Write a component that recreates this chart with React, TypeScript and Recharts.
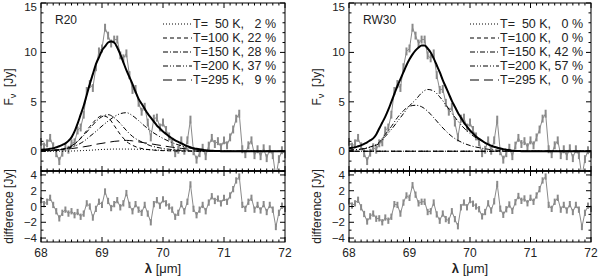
import React from 'react';
import { ComposedChart, Line, XAxis, YAxis, ErrorBar } from 'recharts';

// observed spectrum and residuals, one value every 0.05 µm from 68 to 72 µm
const observed = [
  0.95, 0.47, 0.8, 1.35, 0.5, -0.2, -1.0, -0.15, 0.4, 0.15,
  0.8, 0.9, 2.1, 2.4, 3.7, 6.1, 6.8, 6.4, 8.5, 10.1,
  10.4, 12.5, 11.7, 10.9, 11.3, 11.3, 9.7, 9.4, 9.9, 7.7,
  6.2, 6.3, 4.9, 4.0, 4.5, 2.9, 1.4, 3.3, 3.4, 2.4,
  2.9, 2.15, 1.5, 0.9, -0.2, 0.15, 1.1, 0.05, 1.1, 3.2,
  0.0, -0.85, -0.2, 0.35, -0.5, 0.57, 1.35, 0.73, 1.02, 0.41,
  1.1, 0.6, 1.4, 2.2, 3.3, 3.8, 0.2, -0.3, 0.6, 1.1,
  -0.4, 0.2, -0.5, 0.3, -0.7, 0.2, -0.4, -2.6, -0.8, 0.1,
  -0.3,
];
const diffR20 = [
  0.8, 0.3, 0.6, 1.1, 0.2, -0.6, -1.5, -0.8, -0.4, -0.9,
  -0.6, -1.1, -0.7, -1.3, -0.9, 0.4, 0.0, -1.4, -0.3, 0.6,
  0.2, 1.9, 0.7, -0.2, 0.3, 0.8, -0.1, 0.4, 1.7, 0.2,
  -0.6, 0.3, -0.4, -0.8, 0.2, -0.9, -2.0, 0.3, 0.8, 0.1,
  0.9, 0.4, 0.0, -0.4, -1.3, -0.8, 0.3, -0.6, 0.6, 2.8,
  -0.3, -1.1, -0.4, 0.2, -0.6, 0.5, 1.3, 0.7, 1.0, 0.4,
  1.1, 0.6, 1.4, 2.2, 3.3, 3.8, 0.2, -0.3, 0.6, 1.1,
  -0.4, 0.2, -0.5, 0.3, -0.7, 0.2, -0.4, -2.6, -0.8, 0.1,
  -0.3,
];
const diffRW30 = [
  0.65, 0.12, 0.4, 0.85, -0.1, -0.95, -1.9, -1.25, -0.9, -1.55,
  -1.5, -2.0, -1.4, -1.8, -1.3, 0.3, 0.2, -0.9, 0.5, 1.4,
  1.1, 2.7, 1.5, 0.4, 0.6, 0.6, -0.7, -0.6, 0.5, -1.0,
  -1.8, -0.9, -1.6, -1.8, -0.6, -1.6, -2.5, -0.1, 0.5, -0.1,
  0.8, 0.35, 0.0, -0.35, -1.25, -0.7, 0.4, -0.5, 0.65, 2.85,
  -0.28, -1.05, -0.35, 0.25, -0.55, 0.54, 1.33, 0.72, 1.02, 0.41,
  1.1, 0.6, 1.4, 2.2, 3.3, 3.8, 0.2, -0.3, 0.6, 1.1,
  -0.4, 0.2, -0.5, 0.3, -0.7, 0.2, -0.4, -2.6, -0.8, 0.1,
  -0.3,
];
const fitR20 = [
  0.15, 0.17, 0.2, 0.25, 0.3, 0.4, 0.5, 0.65, 0.8, 1.05,
  1.4, 2.0, 2.8, 3.7, 4.6, 5.7, 6.8, 7.8, 8.8, 9.5,
  10.2, 10.6, 11.0, 11.1, 11.0, 10.5, 9.8, 9.0, 8.2, 7.5,
  6.8, 6.0, 5.3, 4.8, 4.3, 3.8, 3.4, 3.0, 2.6, 2.3,
  2.0, 1.75, 1.5, 1.3, 1.1, 0.95, 0.8, 0.65, 0.5, 0.4,
  0.3, 0.25, 0.2, 0.15, 0.1, 0.07, 0.05, 0.03, 0.02, 0.01,
  0, 0, 0, 0, 0, 0, 0, 0, 0, 0,
  0, 0, 0, 0, 0, 0, 0, 0, 0, 0,
  0,
];
const fitRW30 = [
  0.3, 0.35, 0.4, 0.5, 0.6, 0.75, 0.9, 1.1, 1.3, 1.7,
  2.3, 2.9, 3.5, 4.2, 5.0, 5.8, 6.6, 7.3, 8.0, 8.7,
  9.3, 9.8, 10.2, 10.5, 10.7, 10.7, 10.4, 10.0, 9.4, 8.7,
  8.0, 7.2, 6.5, 5.8, 5.1, 4.5, 3.9, 3.4, 2.9, 2.5,
  2.1, 1.8, 1.5, 1.25, 1.05, 0.85, 0.7, 0.55, 0.45, 0.35,
  0.28, 0.2, 0.15, 0.1, 0.05, 0.03, 0.02, 0.01, 0, 0,
  0, 0, 0, 0, 0, 0, 0, 0, 0, 0,
  0, 0, 0, 0, 0, 0, 0, 0, 0, 0,
  0,
];
const obsError = 0.4;

// temperature components, one value every 0.1 µm from 68 to 72 µm
const r20T50 = [
  0, 0, 0, 0, 0, 0.02, 0.04, 0.07, 0.1, 0.14,
  0.18, 0.2, 0.22, 0.22, 0.22, 0.21, 0.2, 0.18, 0.15, 0.12,
  0.1, 0.07, 0.05, 0.03, 0.02, 0.01, 0, 0, 0, 0,
  0, 0, 0, 0, 0, 0, 0, 0, 0, 0, 0,
];
const r20T100 = [
  0.02, 0.03, 0.06, 0.12, 0.25, 0.5, 1.0, 1.7, 2.5, 3.2,
  3.6, 3.4, 2.6, 1.7, 1.0, 0.6, 0.35, 0.22, 0.14, 0.09,
  0.06, 0.04, 0.03, 0.02, 0.01, 0, 0, 0, 0, 0,
  0, 0, 0, 0, 0, 0, 0, 0, 0, 0, 0,
];
const r20T150 = [
  0.03, 0.05, 0.09, 0.16, 0.3, 0.55, 1.0, 1.6, 2.3, 3.0,
  3.5, 3.7, 3.4, 2.8, 2.1, 1.5, 1.1, 0.8, 0.55, 0.4,
  0.28, 0.2, 0.14, 0.09, 0.05, 0.03, 0.01, 0, 0, 0,
  0, 0, 0, 0, 0, 0, 0, 0, 0, 0, 0,
];
const r20T200 = [
  0.03, 0.06, 0.1, 0.17, 0.25, 0.4, 0.65, 1.0, 1.5, 2.0,
  2.55, 3.05, 3.5, 3.8, 3.9, 3.6, 3.1, 2.55, 2.05, 1.65,
  1.3, 1.0, 0.75, 0.55, 0.38, 0.25, 0.14, 0.06, 0.02, 0,
  0, 0, 0, 0, 0, 0, 0, 0, 0, 0, 0,
];
const r20T295 = [
  0.05, 0.07, 0.1, 0.15, 0.2, 0.27, 0.35, 0.45, 0.55, 0.7,
  0.8, 0.9, 1.0, 1.05, 1.1, 1.05, 0.95, 0.85, 0.75, 0.65,
  0.55, 0.45, 0.37, 0.29, 0.22, 0.15, 0.08, 0.03, 0, 0,
  0, 0, 0, 0, 0, 0, 0, 0, 0, 0, 0,
];
const rw30T50 = [
  0, 0, 0, 0, 0, 0, 0, 0, 0, 0, 0, 0, 0, 0, 0, 0, 0, 0, 0, 0, 0,
  0, 0, 0, 0, 0, 0, 0, 0, 0, 0, 0, 0, 0, 0, 0, 0, 0, 0, 0, 0,
];
const rw30T100 = [
  0, 0, 0, 0, 0, 0, 0, 0, 0, 0, 0, 0, 0, 0, 0, 0, 0, 0, 0, 0, 0,
  0, 0, 0, 0, 0, 0, 0, 0, 0, 0, 0, 0, 0, 0, 0, 0, 0, 0, 0, 0,
];
const rw30T150 = [
  0.1, 0.15, 0.22, 0.35, 0.55, 0.9, 1.7, 2.5, 3.4, 4.1,
  4.55, 4.65, 4.5, 4.05, 3.4, 2.7, 2.05, 1.5, 1.1, 0.8,
  0.58, 0.42, 0.3, 0.2, 0.13, 0.08, 0.04, 0.02, 0, 0,
  0, 0, 0, 0, 0, 0, 0, 0, 0, 0, 0,
];
const rw30T200 = [
  0.1, 0.15, 0.2, 0.32, 0.5, 0.8, 1.5, 2.2, 3.0, 3.8,
  4.6, 5.2, 5.9, 6.25, 6.1, 5.5, 4.7, 3.85, 3.05, 2.35,
  1.8, 1.35, 1.0, 0.72, 0.5, 0.32, 0.18, 0.08, 0.02, 0,
  0, 0, 0, 0, 0, 0, 0, 0, 0, 0, 0,
];
const rw30T295 = [
  0, 0, 0, 0, 0, 0, 0, 0, 0, 0, 0, 0, 0, 0, 0, 0, 0, 0, 0, 0, 0,
  0, 0, 0, 0, 0, 0, 0, 0, 0, 0, 0, 0, 0, 0, 0, 0, 0, 0, 0, 0,
];

const r20Labels = ['T=\u200750 K, \u20072 %', 'T=100 K, 22 %', 'T=150 K, 28 %', 'T=200 K, 37 %', 'T=295 K, \u20079 %'];
const rw30Labels = ['T=\u200750 K, \u20070 %', 'T=100 K, \u20070 %', 'T=150 K, 42 %', 'T=200 K, 57 %', 'T=295 K, \u20070 %'];

// axes
const xMajor = [68, 69, 70, 71, 72];
const xTicks = Array.from({ length: 41 }, (_, i) => +(68 + i * 0.1).toFixed(1));
const fluxMajor = [0, 5, 10, 15];
const fluxTicks = Array.from({ length: 18 }, (_, i) => i - 2);
const diffMajor = [-4, -2, 0, 2, 4];
const diffTicks = [-4, -3, -2, -1, 0, 1, 2, 3, 4];

const fine = observed.map((obs, i) => ({
  x: 68 + i * 0.05,
  obs,
  err: obsError,
  fitR20: fitR20[i],
  fitRW30: fitRW30[i],
  diffR20: diffR20[i],
  diffRW30: diffRW30[i],
}));
const coarse = r20T50.map((_, i) => ({
  x: 68 + i * 0.1,
  r20T50: r20T50[i], r20T100: r20T100[i], r20T150: r20T150[i], r20T200: r20T200[i], r20T295: r20T295[i],
  rw30T50: rw30T50[i], rw30T100: rw30T100[i], rw30T150: rw30T150[i], rw30T200: rw30T200[i], rw30T295: rw30T295[i],
}));

const dashes = ['1 2', '4 3', '5 2 1 2', '5 2 1 2 1 2', '9 5'];
const FONT = '"Liberation Sans", Arial, sans-serif';
const GRAY = '#8a8a8a';
const TOP_H = 171;
const BOT_PLOT = 71;
const BOT_PAD = 6; // room above the residual panel so its top label is not cut
const BOT_H = 277 - TOP_H + BOT_PAD;

const panels = [
  { name: 'R20', left: 0, plotL: 41, plotR: 285, fit: 'fitR20', diff: 'diffR20', comps: ['r20T50', 'r20T100', 'r20T150', 'r20T200', 'r20T295'], labels: r20Labels, legendX: 163 },
  { name: 'RW30', left: 300, plotL: 49, plotR: 291, fit: 'fitRW30', diff: 'diffRW30', comps: ['rw30T50', 'rw30T100', 'rw30T150', 'rw30T200', 'rw30T295'], labels: rw30Labels, legendX: 470 },
];

const fmt = (v: number) => (v < 0 ? '\u2212' + Math.abs(v) : String(v));

// inward ticks on the bottom and top edges, labels below
const xTick = (top: number, bottom: number, withLabel: boolean) => (p: any) => {
  const v = p.payload.value;
  const major = xMajor.some((m) => Math.abs(m - v) < 1e-6);
  const len = major ? 5 : 2.5;
  return (
    <g>
      <line x1={p.x} x2={p.x} y1={bottom} y2={bottom - len} stroke="#000" strokeWidth={1} />
      <line x1={p.x} x2={p.x} y1={top} y2={top + len} stroke="#000" strokeWidth={1} />
      {withLabel && major && (
        <text x={p.x} y={bottom + 15} textAnchor="middle" fontSize={12} fontFamily={FONT} fill="#222">
          {v}
        </text>
      )}
    </g>
  );
};

// inward ticks on the left and right edges, labels to the left
const yTick = (l: number, r: number, top: number, majors: number[]) => (p: any) => {
  const v = p.payload.value;
  const major = majors.includes(v);
  const len = major ? 5 : 2.5;
  return (
    <g>
      <line x1={l} x2={l + len} y1={p.y} y2={p.y} stroke="#000" strokeWidth={1} />
      <line x1={r} x2={r - len} y1={p.y} y2={p.y} stroke="#000" strokeWidth={1} />
      {major && (
        <text x={l - 4} y={Math.max(p.y, top + 3.5)} dy={4} textAnchor="end" fontSize={11.5} fontFamily={FONT} fill="#222">
          {fmt(v)}
        </text>
      )}
    </g>
  );
};

function Panel({ p }: { p: (typeof panels)[number] }) {
  const right = 300 - p.plotR;
  return (
    <>
      <div style={{ position: 'absolute', left: p.left, top: 0 }}>
        <ComposedChart width={300} height={TOP_H + 1} data={fine} margin={{ top: 3, right, bottom: 0, left: p.plotL - 1 }}>
          <XAxis dataKey="x" type="number" domain={[68, 72]} ticks={xTicks} interval={0} height={1} tickSize={0}
            axisLine={false} tickLine={false} tick={xTick(3, TOP_H, false)} allowDataOverflow />
          <YAxis type="number" domain={[-2, 15]} ticks={fluxTicks} interval={0} width={1} tickSize={0}
            axisLine={false} tickLine={false} tick={yTick(p.plotL, p.plotR, 3, fluxMajor)} allowDataOverflow />
          <Line dataKey="obs" type="linear" stroke={GRAY} strokeWidth={1} dot={false} isAnimationActive={false}>
            <ErrorBar dataKey="err" width={0} stroke={GRAY} strokeWidth={2} direction="y" isAnimationActive={false} />
          </Line>
          {p.comps.map((c, i) => (
            <Line key={c} data={coarse} dataKey={c} type="monotone" stroke="#000" strokeWidth={1}
              strokeDasharray={dashes[i]} dot={false} isAnimationActive={false} />
          ))}
          <Line dataKey={p.fit} type="monotone" stroke="#000" strokeWidth={2} dot={false} isAnimationActive={false} />
        </ComposedChart>
      </div>
      <div style={{ position: 'absolute', left: p.left, top: TOP_H - BOT_PAD }}>
        <ComposedChart width={300} height={BOT_H} data={fine}
          margin={{ top: BOT_PAD, right, bottom: BOT_H - BOT_PAD - BOT_PLOT - 1, left: p.plotL - 1 }}>
          <XAxis dataKey="x" type="number" domain={[68, 72]} ticks={xTicks} interval={0} height={1} tickSize={0}
            axisLine={false} tickLine={false} tick={xTick(BOT_PAD, BOT_PAD + BOT_PLOT, true)} allowDataOverflow />
          <YAxis type="number" domain={[-4.5, 4.5]} ticks={diffTicks} interval={0} width={1} tickSize={0}
            axisLine={false} tickLine={false} tick={yTick(p.plotL, p.plotR, -10, diffMajor)} allowDataOverflow />
          <Line dataKey={p.diff} type="linear" stroke={GRAY} strokeWidth={1} dot={false} isAnimationActive={false}>
            <ErrorBar dataKey="err" width={0} stroke={GRAY} strokeWidth={2} direction="y" isAnimationActive={false} />
          </Line>
        </ComposedChart>
      </div>
    </>
  );
}

export default function App() {
  return (
    <div style={{ position: 'absolute', left: 0, top: 0, width: 600, height: 277, background: '#fff', overflow: 'hidden' }}>
      {panels.map((p) => (
        <Panel key={p.name} p={p} />
      ))}
      <svg width={600} height={277} style={{ position: 'absolute', left: 0, top: 0, pointerEvents: 'none' }}
        fontFamily={FONT} fill="#222">
        {panels.map((p) => {
          const L = p.left + p.plotL;
          const R = p.left + p.plotR;
          const cx = (L + R) / 2;
          return (
            <g key={p.name}>
              <rect x={L} y={3} width={R - L} height={TOP_H - 3} fill="none" stroke="#000" strokeWidth={1} />
              <rect x={L} y={TOP_H} width={R - L} height={BOT_PLOT} fill="none" stroke="#000" strokeWidth={1} />
              <line x1={L} x2={R} y1={TOP_H} y2={TOP_H} stroke="#000" strokeWidth={1.6} />
              <text x={L + 14} y={24} fontSize={12}>{p.name}</text>
              {p.labels.map((t, i) => {
                const y = 24 + i * 14;
                return (
                  <g key={t + i}>
                    <line x1={p.legendX} x2={p.legendX + 29} y1={y} y2={y} stroke="#000" strokeWidth={1} strokeDasharray={dashes[i]} />
                    <text x={p.legendX + 30} y={y + 4} fontSize={12.5} style={{ whiteSpace: 'pre' }}>{t}</text>
                  </g>
                );
              })}
              <text transform={`rotate(-90 ${L - 28} 87)`} x={L - 28} y={87} textAnchor="middle" fontSize={12} style={{ whiteSpace: 'pre' }}>
                F<tspan fontSize={9} dy={3}>ν</tspan><tspan dy={-3}>{'  [Jy]'}</tspan>
              </text>
              <text transform={`rotate(-90 ${L - 28} 206.5)`} x={L - 28} y={206.5} textAnchor="middle" fontSize={12}>
                difference [Jy]
              </text>
              <text x={cx} y={273} textAnchor="middle" fontSize={13} style={{ whiteSpace: 'pre' }}>
                <tspan fontWeight="bold">λ</tspan>{' [μm]'}
              </text>
            </g>
          );
        })}
      </svg>
    </div>
  );
}
